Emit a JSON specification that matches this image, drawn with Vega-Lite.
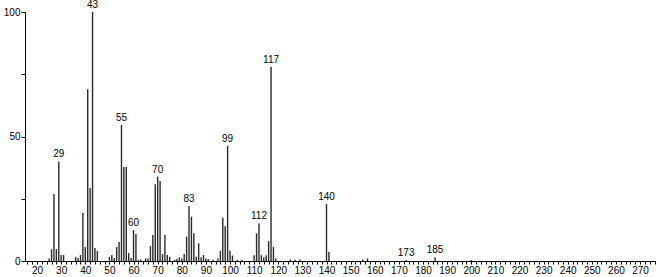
{
  "$schema": "https://vega.github.io/schema/vega-lite/v6.json",
  "width": 631,
  "height": 249,
  "autosize": {"type": "none"},
  "padding": {"left": 25, "top": 12, "right": 0, "bottom": 16},
  "background": "white",
  "config": {
    "view": {"stroke": null},
    "font": "Liberation Sans",
    "axis": {"grid": false, "ticks": true, "domainColor": "#000", "tickColor": "#000", "labelColor": "#000", "labelFont": "Liberation Sans", "labelFontSize": 10, "title": null}
  },
  "data": {"values": [
    {"mz": 25, "int": 1}, {"mz": 26, "int": 4.8}, {"mz": 27, "int": 26.9}, {"mz": 28, "int": 4.8},
    {"mz": 29, "int": 40, "label": "29"}, {"mz": 30, "int": 2.4}, {"mz": 31, "int": 2.4},
    {"mz": 36, "int": 1.6}, {"mz": 37, "int": 1.2}, {"mz": 38, "int": 2.4}, {"mz": 39, "int": 19.3},
    {"mz": 40, "int": 5.6}, {"mz": 41, "int": 69}, {"mz": 42, "int": 29.3}, {"mz": 43, "int": 100, "label": "43"},
    {"mz": 44, "int": 5.2}, {"mz": 45, "int": 4},
    {"mz": 50, "int": 1.6}, {"mz": 51, "int": 2.4}, {"mz": 52, "int": 1.2}, {"mz": 53, "int": 5.6},
    {"mz": 54, "int": 7.6}, {"mz": 55, "int": 54.6, "label": "55"}, {"mz": 56, "int": 37.8}, {"mz": 57, "int": 37.8},
    {"mz": 58, "int": 3.2}, {"mz": 59, "int": 1.2}, {"mz": 60, "int": 12.4, "label": "60"}, {"mz": 61, "int": 10.8},
    {"mz": 62, "int": 0.5}, {"mz": 63, "int": 0.6}, {"mz": 65, "int": 1}, {"mz": 66, "int": 1},
    {"mz": 67, "int": 6}, {"mz": 68, "int": 10.4}, {"mz": 69, "int": 30.8}, {"mz": 70, "int": 33.9, "label": "70"},
    {"mz": 71, "int": 32.1}, {"mz": 72, "int": 2.8}, {"mz": 73, "int": 10.4}, {"mz": 74, "int": 2.4},
    {"mz": 75, "int": 1.7}, {"mz": 77, "int": 0.5}, {"mz": 78, "int": 0.8}, {"mz": 79, "int": 1.5},
    {"mz": 80, "int": 1}, {"mz": 81, "int": 2.8}, {"mz": 82, "int": 9.8}, {"mz": 83, "int": 22.1, "label": "83"},
    {"mz": 84, "int": 17.8}, {"mz": 85, "int": 11.1}, {"mz": 86, "int": 1.7}, {"mz": 87, "int": 7.1},
    {"mz": 88, "int": 1.5}, {"mz": 89, "int": 2.4}, {"mz": 90, "int": 1}, {"mz": 91, "int": 0.8},
    {"mz": 93, "int": 0.5}, {"mz": 95, "int": 1}, {"mz": 96, "int": 4.1}, {"mz": 97, "int": 17.4},
    {"mz": 98, "int": 14}, {"mz": 99, "int": 46.2, "label": "99"}, {"mz": 100, "int": 4.1}, {"mz": 101, "int": 2.2},
    {"mz": 103, "int": 0.5}, {"mz": 105, "int": 0.5}, {"mz": 110, "int": 2.3}, {"mz": 111, "int": 11.1},
    {"mz": 112, "int": 15.1, "label": "112"}, {"mz": 113, "int": 2.3}, {"mz": 114, "int": 1.5}, {"mz": 115, "int": 2.3},
    {"mz": 116, "int": 8}, {"mz": 117, "int": 77.9, "label": "117"}, {"mz": 118, "int": 5.7}, {"mz": 119, "int": 1},
    {"mz": 125, "int": 0.6}, {"mz": 127, "int": 0.5}, {"mz": 129, "int": 0.6},
    {"mz": 140, "int": 22.9, "label": "140"}, {"mz": 141, "int": 3.7},
    {"mz": 155, "int": 0.6}, {"mz": 157, "int": 1},
    {"mz": 173, "int": 0.4, "label": "173"}, {"mz": 185, "int": 1.5, "label": "185"}, {"mz": 200, "int": 0.4}
  ]},
  "encoding": {
    "x": {"field": "mz", "type": "quantitative", "scale": {"domain": [15, 276.6], "nice": false, "zero": false},
      "axis": {"values": [16,18,20,22,24,26,28,30,32,34,36,38,40,42,44,46,48,50,52,54,56,58,60,62,64,66,68,70,72,74,76,78,80,82,84,86,88,90,92,94,96,98,100,102,104,106,108,110,112,114,116,118,120,122,124,126,128,130,132,134,136,138,140,142,144,146,148,150,152,154,156,158,160,162,164,166,168,170,172,174,176,178,180,182,184,186,188,190,192,194,196,198,200,202,204,206,208,210,212,214,216,218,220,222,224,226,228,230,232,234,236,238,240,242,244,246,248,250,252,254,256,258,260,262,264,266,268,270,272,274,276],
        "labelExpr": "datum.value % 10 === 0 ? datum.label : ''", "labelOverlap": false, "tickSize": 3, "labelPadding": 1, "labelFlush": false}},
    "y": {"field": "int", "type": "quantitative", "scale": {"domain": [0, 100], "nice": false},
      "axis": {"values": [0, 25, 50, 75, 100], "labelExpr": "datum.value % 50 === 0 ? datum.label : ''", "tickSize": 4, "labelPadding": 1, "labelFlush": false}}
  },
  "layer": [
    {
      "mark": {"type": "rule", "color": "#2a2a2a", "strokeWidth": 1.4},
      "encoding": {
        "y2": {"datum": 0}
      }
    },
    {
      "transform": [{"filter": "datum.label != null"}],
      "mark": {"type": "text", "baseline": "bottom", "dy": -2, "fontSize": 10, "color": "#000", "font": "Liberation Sans"},
      "encoding": {
        "text": {"field": "label"}
      }
    }
  ]
}
